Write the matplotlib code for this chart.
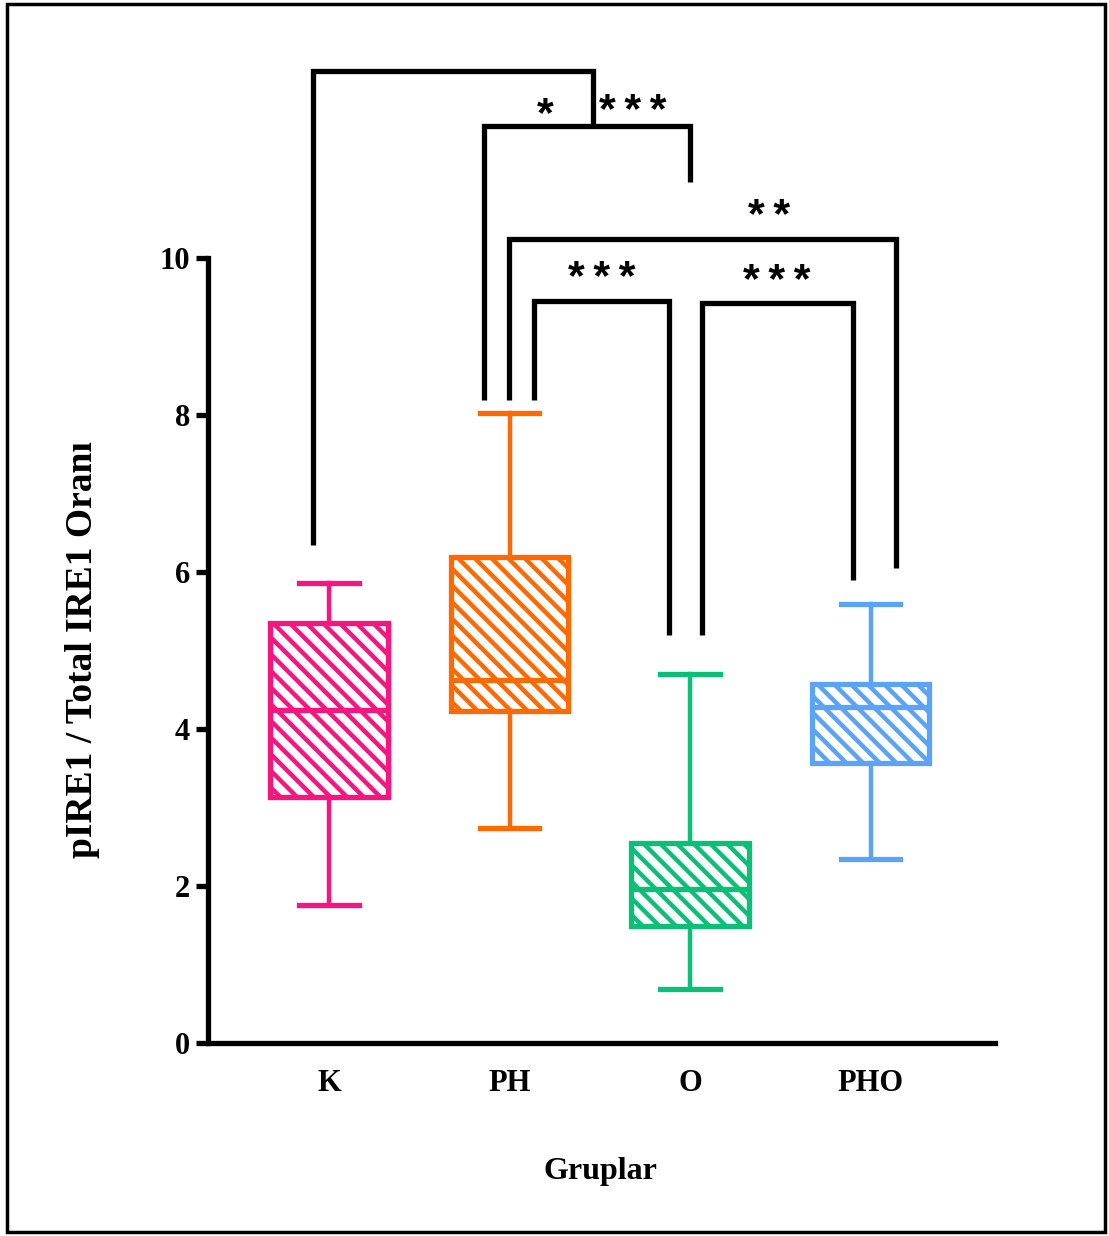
import matplotlib
matplotlib.use("Agg")
import matplotlib.pyplot as plt
from matplotlib.patches import Rectangle

# ---- data ----
groups = ["K", "PH", "O", "PHO"]
whisker_low = [1.76, 2.74, 0.69, 2.34]
q1 = [3.13, 4.23, 1.49, 3.57]
median = [4.24, 4.62, 1.96, 4.28]
q3 = [5.35, 6.19, 2.55, 4.57]
whisker_high = [5.86, 8.03, 4.70, 5.59]
colors = ["#F7157F", "#FF6A00", "#0CBF78", "#5AA3F7"]

# significance brackets: (x_left, y_left_bottom, x_right, y_right_bottom, y_top)
brackets = [
    (-0.09, 6.34, 1.463, 11.68, 12.39),
    (0.859, 8.19, 2.00, 10.97, 11.68),
    (0.997, 8.19, 3.14, 6.05, 10.24),
    (1.136, 8.19, 1.884, 5.20, 9.46),
    (2.066, 5.20, 2.903, 5.90, 9.43),
]
star_labels = ["*", "***", "**", "***", "***"]
star_x = [1.197, 1.684, 2.438, 1.512, 2.482]
star_y = [11.95, 11.99, 10.65, 9.87, 9.82]

plt.rcParams["hatch.linewidth"] = 3.2
serif = ["Liberation Serif", "DejaVu Serif"]

fig = plt.figure(figsize=(11.09, 12.36), dpi=100)
ax = fig.add_axes([0.1876, 0.1562, 0.7097, 0.80])

stats = []
for i, g in enumerate(groups):
    stats.append(dict(label=g, whislo=whisker_low[i], q1=q1[i], med=median[i],
                      q3=q3[i], whishi=whisker_high[i], fliers=[]))

for i in range(len(groups)):
    c = colors[i]
    ax.bxp([stats[i]], positions=[i], widths=0.65, patch_artist=True,
           showfliers=False,
           boxprops=dict(facecolor="white", edgecolor=c, linewidth=3.8, hatch="\\\\"),
           medianprops=dict(color=c, linewidth=3.8),
           whiskerprops=dict(color=c, linewidth=3.2),
           capprops=dict(color=c, linewidth=3.8),
           capwidths=0.33)

for (xl, yl, xr, yr, yt) in brackets:
    ax.plot([xl, xl, xr, xr], [yl, yt, yt, yr], color="black", lw=3.8,
            solid_joinstyle="miter", solid_capstyle="butt", clip_on=False)

# asterisks in Arial-like font sit high; shift baseline down, add thin spacing
for lab, sx, sy in zip(star_labels, star_x, star_y):
    ax.text(sx, sy - 0.27, "\u2009".join(lab), ha="center", va="baseline", fontsize=31,
            fontweight="bold", family=["Liberation Sans", "DejaVu Sans"])

ax.set_xlim(-0.67, 3.69)
ax.set_ylim(0, 12.6)
ax.spines["top"].set_visible(False)
ax.spines["right"].set_visible(False)
ax.spines["left"].set_bounds(0, 10)
ax.spines["left"].set_linewidth(3.8)
ax.spines["bottom"].set_linewidth(3.8)
ax.set_yticks([0, 2, 4, 6, 8, 10])
ax.set_xticks(range(len(groups)))
ax.set_xticklabels(groups)
ax.tick_params(axis="y", length=9, width=3.8, pad=4)
ax.tick_params(axis="x", length=0, pad=19)
for lab in ax.get_yticklabels() + ax.get_xticklabels():
    lab.set_fontfamily(serif)
    lab.set_fontweight("bold")
    lab.set_fontsize(22)

fig.text(83 / 1109, 1 - 650 / 1236, "pIRE1 / Total IRE1 Oranı", rotation=90,
         ha="center", va="center", fontsize=27, fontweight="bold", family=serif)
fig.text(600 / 1109, 1 - 1172 / 1236, "Gruplar", ha="center", va="center",
         fontsize=23, fontweight="bold", family=serif)

fig.patches.append(Rectangle((0.006, 0.003), 0.990, 0.994, transform=fig.transFigure,
                             fill=False, edgecolor="black", linewidth=2.5))

fig.savefig("out.png", dpi=100)
